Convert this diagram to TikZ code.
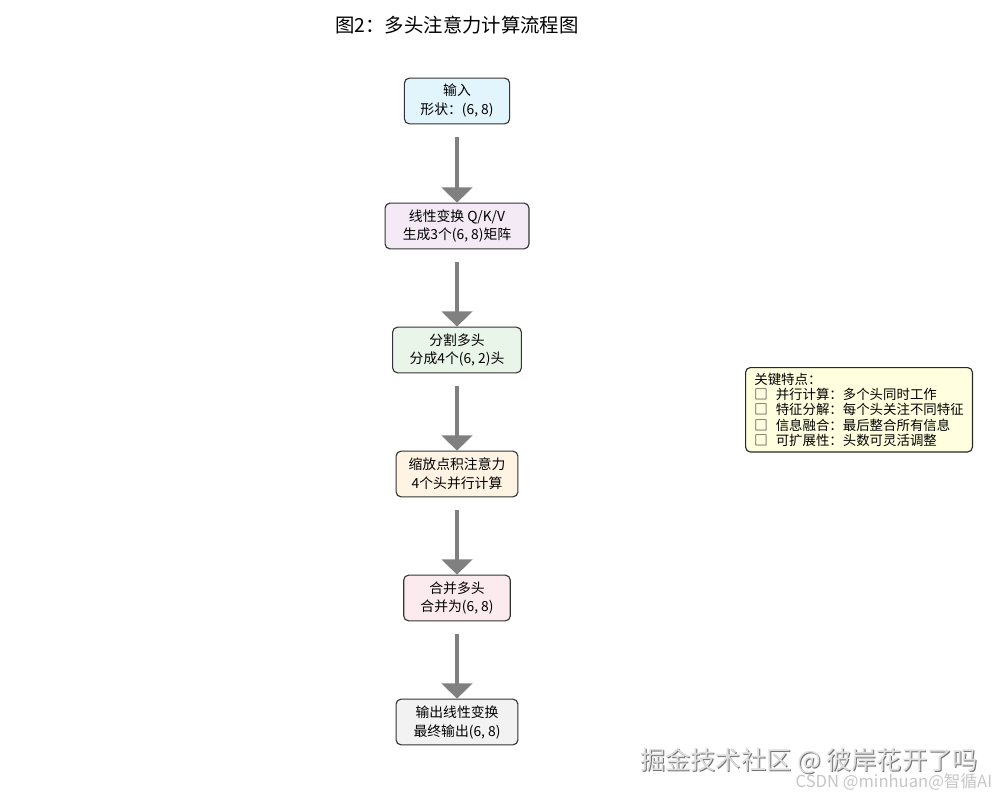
\documentclass[tikz,border=0pt]{standalone}
\usepackage{fontspec}
\setmainfont{Noto Sans CJK SC}
\usepackage{xcolor}
\usetikzlibrary{arrows.meta}
\definecolor{inblue}{HTML}{E3F5FC}
\definecolor{linpurple}{HTML}{F3EAF6}
\definecolor{splitgreen}{HTML}{EAF5EA}
\definecolor{attnorange}{HTML}{FFF4E4}
\definecolor{mergepink}{HTML}{FCEBEE}
\definecolor{outgray}{HTML}{F2F2F2}
\definecolor{notebg}{HTML}{FFFFE0}

\begin{document}
\begin{tikzpicture}[x=0.0254cm,y=-0.0254cm,
stepbox/.style={draw=black!80,line width=0.8pt,rounded corners=3.5pt,align=center,font=\fontsize{10}{13.7}\selectfont,minimum height=33pt,inner xsep=2pt,inner ysep=2pt},
flow/.style={-{Triangle[width=22pt,length=11pt]},gray,line width=2.4pt,shorten <=9.4pt},
notebox/.style={draw=black!85,line width=0.8pt,rounded corners=3.5pt,fill=notebg,align=left,font=\fontsize{9.7}{11}\selectfont,minimum width=164pt,inner xsep=3pt,inner ysep=4pt,anchor=north west},
titletext/.style={font=\fontsize{14}{16}\selectfont},
mark1/.style={font=\fontsize{18.2}{20}\selectfont}
]
\useasboundingbox[fill=white] (0,0) rectangle (1000,800);

\node[titletext] (title) at (457,25) {图2：多头注意力计算流程图};

\node[stepbox,fill=inblue,minimum width=76pt] (input) at (457,101) {输入\\形状：(6, 8)};
\node[stepbox,fill=linpurple,minimum width=104pt] (linear) at (457,226) {线性变换 Q/K/V\\生成3个(6, 8)矩阵};
\node[stepbox,fill=splitgreen,minimum width=93pt] (split) at (457,350) {分割多头\\分成4个(6, 2)头};
\node[stepbox,fill=attnorange,minimum width=88pt] (attn) at (457,474) {缩放点积注意力\\4个头并行计算};
\node[stepbox,fill=mergepink,minimum width=77pt] (merge) at (457,598) {合并多头\\合并为(6, 8)};
\node[stepbox,fill=outgray,minimum width=88pt] (output) at (457,722) {输出线性变换\\最终输出(6, 8)};

\draw[flow] (input) -- (linear);
\draw[flow] (linear) -- (split);
\draw[flow] (split) -- (attn);
\draw[flow] (attn) -- (merge);
\draw[flow] (merge) -- (output);

\node[notebox] (notes) at (745,367) {关键特点：\\
□\hspace{0.6em}并行计算：多个头同时工作\\
□\hspace{0.6em}特征分解：每个头关注不同特征\\
□\hspace{0.6em}信息融合：最后整合所有信息\\
□\hspace{0.6em}可扩展性：头数可灵活调整};

\node[mark1,black!55] at (810,762) {掘金技术社区 @ 彼岸花开了吗};
\node[mark1,gray!25] (mark) at (809,761) {掘金技术社区 @ 彼岸花开了吗};
\node[font=\fontsize{12}{14}\selectfont,gray!45,anchor=east] (csdn) at (997,782) {CSDN @minhuan@智循AI};
\end{tikzpicture}
\end{document}
